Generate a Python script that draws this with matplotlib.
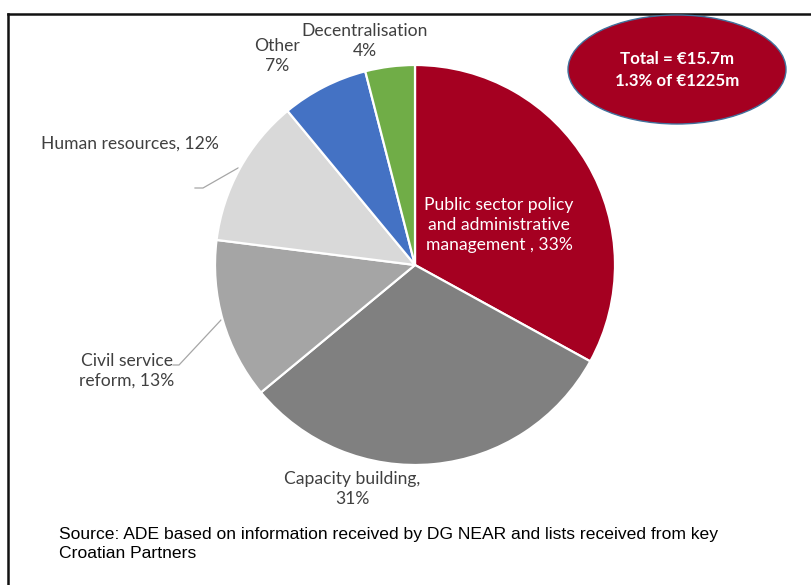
import matplotlib
matplotlib.use("Agg")
import matplotlib.pyplot as plt
from matplotlib.patches import Ellipse

# Share of support by sector (%), clockwise from 12 o'clock
sectors = ["Public sector policy\nand administrative\nmanagement", "Capacity building",
           "Civil service\nreform", "Human resources", "Other", "Decentralisation"]
shares = [33, 31, 13, 12, 7, 4]
colors = ["#A50021", "#808080", "#A5A5A5", "#D9D9D9", "#4472C4", "#70AD47"]
label_texts = ["Public sector policy\nand administrative\nmanagement , 33%",
               "Capacity building,\n31%",
               "Civil service\nreform, 13%",
               "Human resources, 12%",
               "Other\n7%",
               "Decentralisation\n4%"]
total_text = "Total = €15.7m\n1.3% of €1225m"
source_text = ("Source: ADE based on information received by DG NEAR and lists received from key\n"
               "Croatian Partners")

W, H = 812, 585
plt.rcParams["font.family"] = ["Lato", "DejaVu Sans"]
fig = plt.figure(figsize=(W / 100, H / 100), dpi=100)
fig.patch.set_facecolor("white")

# Pixel-space overlay for frame, callout and source note
bg = fig.add_axes([0, 0, 1, 1])
bg.set_xlim(0, W)
bg.set_ylim(H, 0)
bg.axis("off")

# Pie axes: centre (415, 265) px, radius 200 px
cx, cy, r = 415, 265, 200
ax = fig.add_axes([(cx - r) / W, (H - cy - r) / H, 2 * r / W, 2 * r / H])
wedges, _ = ax.pie(shares, colors=colors, startangle=90, counterclock=False,
                   radius=1.0, wedgeprops=dict(edgecolor="white", linewidth=1.6))
ax.set_xlim(-1, 1)
ax.set_ylim(-1, 1)
ax.set_aspect("equal")
ax.axis("off")


def px(x, y):
    return (x - cx) / r, (cy - y) / r


label_pos = [(499, 225), (352, 489), (127, 371), (130, 144), (277, 56), (365, 41)]
label_col = ["white", "#404040", "#404040", "#404040", "#404040", "#404040"]
for txt, (lx, ly), col in zip(label_texts, label_pos, label_col):
    ax.text(*px(lx, ly), txt, ha="center", va="center", color=col,
            fontsize=12.6, linespacing=1.3, clip_on=False)

# Leader lines
leader_civil = [(173, 365), (179, 365), (221, 320)]
leader_hr = [(195, 188), (203, 188), (238, 168)]
for pts in (leader_civil, leader_hr):
    bg.plot([p[0] for p in pts], [p[1] for p in pts], color="#A6A6A6", lw=0.9)

# Frame
bg.plot([8, 8], [H, 14], color="#111111", lw=1.8, solid_capstyle="projecting")
bg.plot([8, W], [14, 14], color="#111111", lw=1.8, solid_capstyle="projecting")

# Total callout
bg.add_patch(Ellipse((677, 69.5), 218, 109, facecolor="#A50021",
                     edgecolor="#41719C", lw=1.0, zorder=5))
bg.text(677, 70, total_text, ha="center", va="center", color="white",
        fontsize=12.2, fontweight="bold", linespacing=1.4, zorder=6)

bg.text(59, 544, source_text, ha="left", va="center", color="#000000",
        fontsize=12.6, family=["Liberation Sans", "DejaVu Sans"], linespacing=1.4)

fig.savefig("out.png", dpi=100, facecolor="white")
